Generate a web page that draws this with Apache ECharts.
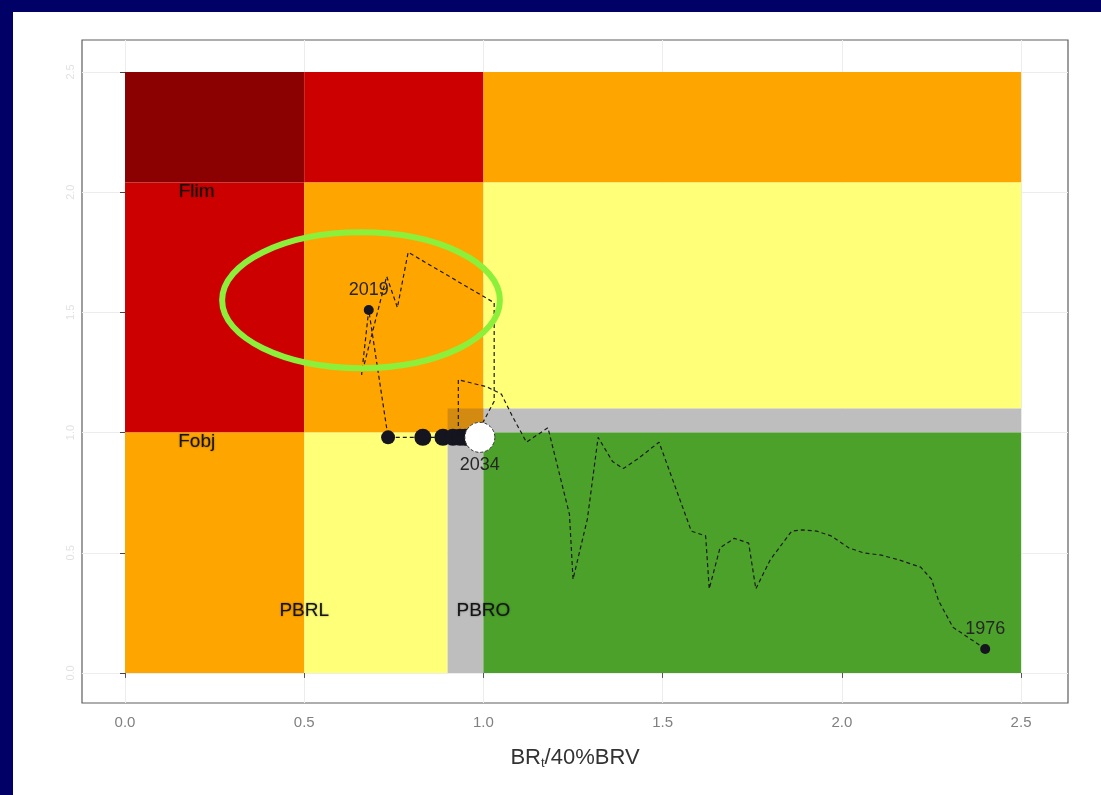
<!DOCTYPE html>
<html>
<head>
<meta charset="utf-8">
<title>Trayectoria F / BR</title>
<script src="https://cdn.jsdelivr.net/npm/echarts@6/dist/echarts.min.js"></script>
<style>
  html, body { margin: 0; padding: 0; width: 1101px; height: 795px; background: #000066; overflow: hidden; }
  #chart { position: absolute; left: 13px; top: 12px; width: 1088px; height: 783px; background: #ffffff; }
</style>
</head>
<body>
<div id="chart"></div>
<script>
// ---- reference levels ----
const Flim = 2.04;       // limit fishing mortality (relative to Fobj)
const Fobj = 1.0;        // target fishing mortality
const Fbuf = 1.1;        // upper edge of the buffer band
const PBRL = 0.5;        // limit biomass
const PBRO = 1.0;        // target biomass
const PBRbuf = 0.9;      // lower edge of the biomass buffer
const Xmax = 2.5;
const Ymax = 2.5;

// ---- tick labels ----
const xTicks = [0, 0.5, 1.0, 1.5, 2.0, 2.5];
const yTicks = [0, 0.5, 1.0, 1.5, 2.0, 2.5];

// ---- status zones: [x0, x1, y0, y1, kind] ----
const zones = [
  [0,      PBRL,   Flim, Ymax, 'darkred'],
  [PBRL,   PBRO,   Flim, Ymax, 'red'],
  [PBRO,   Xmax,   Flim, Ymax, 'orange'],
  [0,      PBRL,   Fobj, Flim, 'red'],
  [PBRL,   PBRO,   Fobj, Flim, 'orange'],
  [PBRO,   Xmax,   Fbuf, Flim, 'yellow'],
  [PBRO,   Xmax,   Fobj, Fbuf, 'grey'],
  [PBRbuf, PBRO,   Fobj, Fbuf, 'overlap'],
  [0,      PBRL,   0,    Fobj, 'orange'],
  [PBRL,   PBRbuf, 0,    Fobj, 'yellow'],
  [PBRbuf, PBRO,   0,    Fobj, 'grey'],
  [PBRO,   Xmax,   0,    Fobj, 'green']
];

// ---- reference point labels ----
const refNames = ['Flim', 'Fobj', 'PBRL', 'PBRO'];
const refX     = [0.2,    0.2,    0.5,    1.0];
const refY     = [2.0,    0.96,   0.26,   0.26];

// ---- historical trajectory (BR / 40%BRV, F / Fobj) ----
const histYears = [1976, 1977, 1978, 1979, 1980, 1981, 1982, 1983, 1984, 1985, 1986,
                   1987, 1988, 1989, 1990, 1991, 1992, 1993, 1994, 1995, 1996, 1997,
                   1998, 1999, 2000, 2001, 2002, 2003, 2004, 2005, 2006, 2007, 2008,
                   2009, 2010, 2011, 2012, 2013, 2014, 2015, 2016, 2017, 2018, 2019];
const histBR = [2.40, 2.31, 2.27, 2.25, 2.22, 2.16, 2.11, 2.06, 2.02, 1.97, 1.93,
                1.89, 1.86, 1.80, 1.76, 1.74, 1.70, 1.66, 1.63, 1.62, 1.58, 1.49,
                1.43, 1.39, 1.36, 1.32, 1.29, 1.25, 1.24, 1.18, 1.12, 1.08, 1.05,
                1.01, 0.93, 0.93, 0.98, 1.03, 1.03, 0.79, 0.76, 0.73, 0.66, 0.68];
const histF  = [0.10, 0.19, 0.30, 0.39, 0.44, 0.47, 0.49, 0.50, 0.52, 0.57, 0.59,
                0.595, 0.59, 0.47, 0.35, 0.54, 0.56, 0.52, 0.35, 0.57, 0.59, 0.96,
                0.89, 0.85, 0.88, 0.98, 0.64, 0.39, 0.66, 1.02, 0.96, 1.07, 1.16,
                1.19, 1.22, 1.00, 0.99, 1.13, 1.54, 1.75, 1.52, 1.65, 1.24, 1.51];

// ---- projection at F = Fobj ----
const projYears = [2020, 2021, 2022, 2023, 2024, 2025, 2026, 2027, 2028, 2029, 2030,
                   2031, 2032, 2033, 2034];
const projBR = [0.734, 0.831, 0.887, 0.915, 0.935, 0.949, 0.957, 0.965, 0.971, 0.977,
                0.979, 0.982, 0.985, 0.988, 0.990];
const projF  = [0.98, 0.98, 0.98, 0.98, 0.98, 0.98, 0.98, 0.98, 0.98, 0.98,
                0.98, 0.98, 0.98, 0.98, 0.98];

// ---- highlighted area (data units) ----
const highlightBR = [0.271, 1.046];
const highlightF  = [1.268, 1.833];

// ---- styling ----
const zoneColors = {
  darkred: '#8b0000', red: '#cd0000', orange: '#ffa500', yellow: '#ffff78',
  grey: '#bebebe', overlap: '#d38a10', green: '#4ca12a'
};
const FONT = '"Liberation Sans", Arial, sans-serif';
const DOT = '#15151f';

const chart = echarts.init(document.getElementById('chart'), null, { renderer: 'canvas' });

const hist = histBR.map((b, i) => [b, histF[i]]);
const proj = projBR.map((b, i) => [b, projF[i]]);
const path = hist.concat(proj);

const option = {
  animation: false,
  backgroundColor: '#ffffff',
  grid: {
    left: 69, right: 33, top: 28, bottom: 92,
    show: true, borderColor: '#5e5e5e', borderWidth: 1.2, backgroundColor: '#ffffff'
  },
  xAxis: {
    type: 'value', min: -0.12, max: 2.631,
    name: '{m|BR}{s|t}{m|/40%BRV}',
    nameLocation: 'middle', nameGap: 42,
    nameTextStyle: {
      rich: {
        m: { fontSize: 22, color: '#333333', fontFamily: FONT },
        s: { fontSize: 13, color: '#333333', fontFamily: FONT, padding: [12, 0, 0, 0] }
      }
    },
    axisLine: { show: false },
    axisTick: { show: true, customValues: xTicks, length: 5, lineStyle: { color: '#555555', width: 1 } },
    axisLabel: {
      customValues: xTicks, color: '#808080', fontSize: 15, fontFamily: FONT, margin: 12,
      formatter: v => v.toFixed(1)
    },
    splitLine: { show: true, lineStyle: { color: '#ededed', width: 1 } }
  },
  yAxis: {
    type: 'value', min: -0.125, max: 2.633,
    axisLine: { show: false },
    axisTick: { show: true, customValues: yTicks, length: 5, lineStyle: { color: '#444444', width: 1 } },
    axisLabel: {
      customValues: yTicks, color: '#e2e2e2', fontSize: 11, fontFamily: FONT, rotate: 90, margin: 6,
      formatter: v => v.toFixed(1)
    },
    splitLine: { show: true, lineStyle: { color: '#ededed', width: 1 } }
  },
  series: [
    {
      // status zones
      type: 'custom',
      z: 1,
      data: zones.map(z => z.slice(0, 4)),
      encode: { x: [0, 1], y: [2, 3] },
      renderItem: function (params, api) {
        const tl = api.coord([api.value(0), api.value(3)]);
        const br = api.coord([api.value(1), api.value(2)]);
        return {
          type: 'rect',
          shape: { x: tl[0], y: tl[1], width: br[0] - tl[0], height: br[1] - tl[1] },
          style: { fill: zoneColors[zones[params.dataIndex][4]] }
        };
      },
      silent: true
    },
    {
      // reference point names
      type: 'custom',
      z: 2,
      data: refX.map((x, i) => [x, refY[i]]),
      renderItem: function (params, api) {
        const p = api.coord([api.value(0), api.value(1)]);
        return {
          type: 'text', x: p[0], y: p[1],
          style: {
            text: refNames[params.dataIndex], fill: '#141414',
            fontSize: 19, fontFamily: FONT, align: 'center', verticalAlign: 'middle',
            textShadowColor: 'rgba(0,0,0,0.45)', textShadowBlur: 2
          }
        };
      },
      silent: true
    },
    {
      // trajectory 1976-2034
      type: 'line',
      z: 3,
      data: path,
      symbol: 'none',
      lineStyle: { color: '#1b1b1b', width: 1.2, type: [4, 3] },
      silent: true
    },
    {
      // first and last assessed years
      type: 'scatter',
      z: 4,
      data: [hist[0], hist[hist.length - 1]],
      symbolSize: 10,
      itemStyle: { color: DOT, opacity: 1 },
      label: {
        show: true, position: 'top', distance: 6, color: '#262626', fontSize: 18, fontFamily: FONT,
        formatter: p => String(p.dataIndex === 0 ? histYears[0] : histYears[histYears.length - 1])
      }
    },
    {
      // projected years
      type: 'scatter',
      z: 4,
      data: proj.slice(0, proj.length - 1),
      symbolSize: (v, p) => (p.dataIndex === 0 ? 14 : 17),
      itemStyle: { color: DOT, opacity: 1 }
    },
    {
      // final projected year
      type: 'scatter',
      z: 5,
      data: [proj[proj.length - 1]],
      symbolSize: 30,
      itemStyle: { color: '#ffffff', opacity: 1, borderColor: '#333333', borderWidth: 1, borderType: [3, 2] },
      label: {
        show: true, position: 'bottom', distance: 3, color: '#262626', fontSize: 18, fontFamily: FONT,
        formatter: () => String(projYears[projYears.length - 1])
      }
    }
  ]
};

chart.setOption(option);

// highlight ring around the latest years
const c0 = chart.convertToPixel({ gridIndex: 0 }, [highlightBR[0], highlightF[1]]);
const c1 = chart.convertToPixel({ gridIndex: 0 }, [highlightBR[1], highlightF[0]]);
chart.setOption({
  graphic: [{
    type: 'ellipse',
    z: 100,
    shape: {
      cx: (c0[0] + c1[0]) / 2, cy: (c0[1] + c1[1]) / 2,
      rx: Math.abs(c1[0] - c0[0]) / 2, ry: Math.abs(c1[1] - c0[1]) / 2
    },
    style: { fill: 'none', stroke: '#8cf03a', lineWidth: 6 },
    silent: true
  }]
});
</script>
</body>
</html>
